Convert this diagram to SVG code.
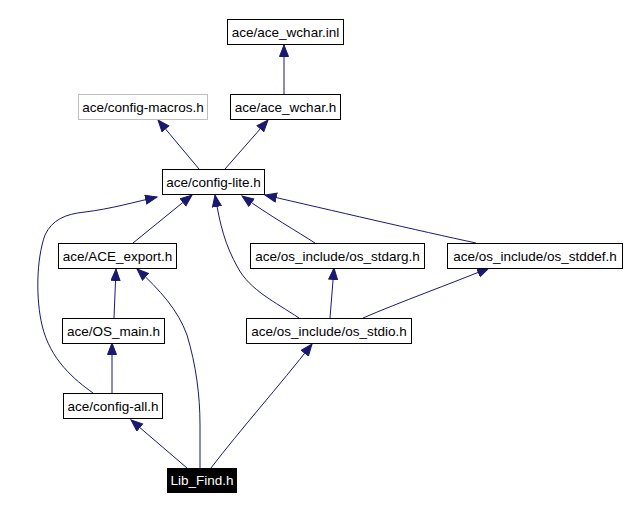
<svg xmlns="http://www.w3.org/2000/svg" width="627" height="510" viewBox="0 0 627 510">
<defs>
<style>
.n rect{fill:#fff;stroke:#000;stroke-width:1}
.n text{font-family:"Liberation Sans",Arial,sans-serif;font-size:13.5px;text-anchor:middle;fill:#000}
.g rect{stroke:#bfbfbf}
.b rect{fill:#000}
.b text{fill:#fff}
.e path{fill:none;stroke:#191970;stroke-width:1;marker-end:url(#a)}
</style>
<marker id="a" markerWidth="14" markerHeight="12" refX="12" refY="5" orient="auto" markerUnits="userSpaceOnUse">
<path d="M0.5,0.5 L12,5 L0.5,9.5 z" fill="#191970" stroke="#191970" stroke-width="1"/>
</marker>
</defs>
<rect width="627" height="510" fill="#fff"/>
<g class="e" id="edges">
<path d="M284,94 L284,45"/>
<path d="M199,169 L158,120"/>
<path d="M225,169 L268,120"/>
<path d="M133,243 L192,195"/>
<path d="M93,393 C75,380 50,360 42,325 C36,300 36,260 45,235 C52,220 65,214 85,212 C110,209 135,202 157,197"/>
<path d="M299,318 C275,302 250,290 238,268 C225,245 220,225 215,195"/>
<path d="M315,243 C298,232 270,216 242,196"/>
<path d="M476,243 C420,231 330,210 265,195"/>
<path d="M114,318 L116,269"/>
<path d="M112,393 L112,343"/>
<path d="M330,318 L334,268"/>
<path d="M363,318 C400,302 450,284 489,268"/>
<path d="M187,468 L131,420"/>
<path d="M200,468 L200,425 C200,395 196,365 187,335 C178,310 160,290 137,269"/>
<path d="M211,468 C240,430 280,385 312,344"/>
</g>
<g class="n" id="ace_wchar_inl"><rect x="227.5" y="19.5" width="116" height="25"/><text x="285.5" y="36.5">ace/ace_wchar.inl</text></g>
<g class="n g" id="config_macros"><rect x="78.5" y="94.5" width="129" height="25"/><text x="143" y="111.5">ace/config-macros.h</text></g>
<g class="n" id="ace_wchar_h"><rect x="230.5" y="94.5" width="110" height="25"/><text x="285.5" y="111.5">ace/ace_wchar.h</text></g>
<g class="n" id="config_lite"><rect x="162.5" y="169.5" width="102" height="25"/><text x="213.5" y="186.5">ace/config-lite.h</text></g>
<g class="n" id="ace_export"><rect x="58.5" y="243.5" width="118" height="25"/><text x="117.5" y="260.5">ace/ACE_export.h</text></g>
<g class="n" id="os_stdarg"><rect x="250.5" y="243.5" width="174" height="25"/><text x="337.5" y="260.5">ace/os_include/os_stdarg.h</text></g>
<g class="n" id="os_stddef"><rect x="447.5" y="243.5" width="175" height="25"/><text x="535" y="260.5">ace/os_include/os_stddef.h</text></g>
<g class="n" id="os_main"><rect x="62.5" y="318.5" width="102" height="25"/><text x="113.5" y="335.5">ace/OS_main.h</text></g>
<g class="n" id="os_stdio"><rect x="246.5" y="318.5" width="165" height="25"/><text x="329" y="335.5">ace/os_include/os_stdio.h</text></g>
<g class="n" id="config_all"><rect x="63.5" y="393.5" width="99" height="25"/><text x="113" y="410.5">ace/config-all.h</text></g>
<g class="n b" id="lib_find"><rect x="167.5" y="468.5" width="69" height="24"/><text x="202" y="485">Lib_Find.h</text></g>
</svg>
